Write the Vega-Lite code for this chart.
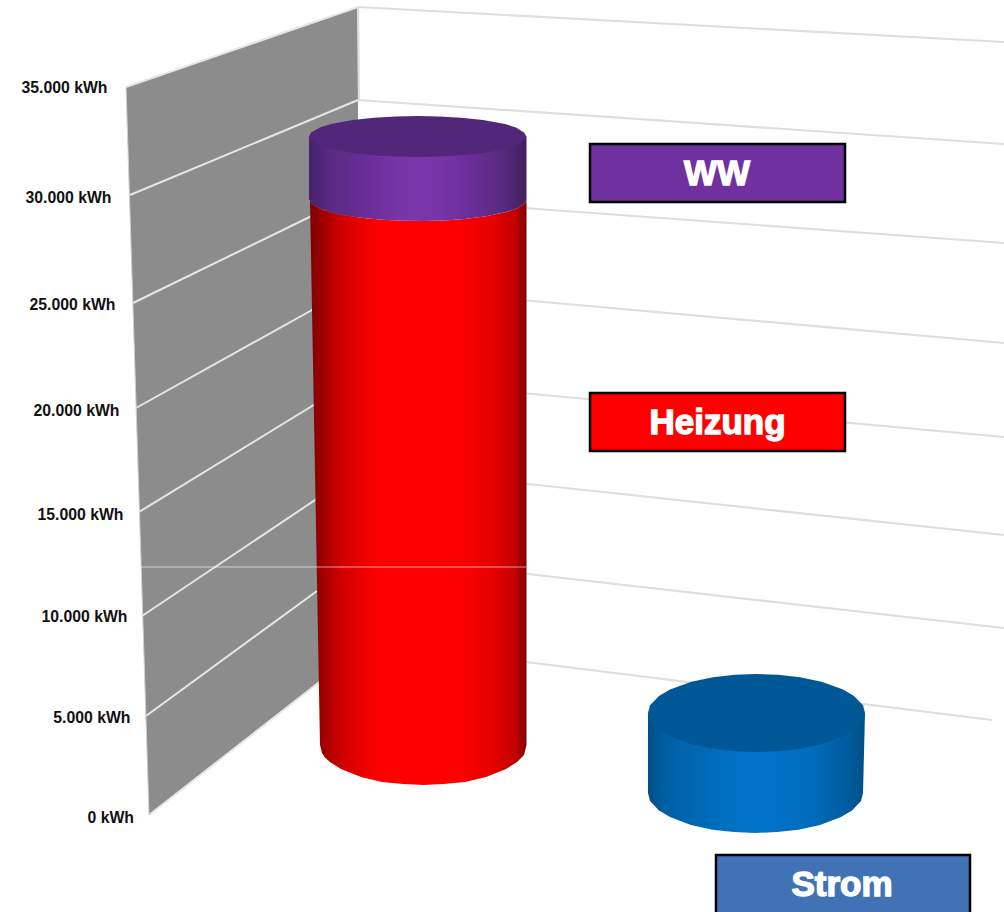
{
"$schema":"https://vega.github.io/schema/vega-lite/v6.json",
"width":1004,"height":912,"padding":0,
"autosize":{"type":"none"},
"background":"white",
"view":{"stroke":null},
"encoding":{
"x":{"field":"x","type":"quantitative","scale":{"domain":[0,1004],"nice":false,"zero":false},"axis":null},
"y":{"field":"y","type":"quantitative","scale":{"domain":[912,0],"nice":false,"zero":false},"axis":null}
},
"layer":[
{"data":{"values":[{"x":126,"y":87,"y2":87},{"x":149,"y":79,"y2":815},{"x":319,"y":20,"y2":682},{"x":358,"y":7,"y2":652}]},
"mark":{"type":"area","fill":"#8c8c8c","interpolate":"linear"},"encoding":{"y2":{"field":"y2"}}},
{"data":{"values":[
{"g":"35000","x":126,"y":87},{"g":"35000","x":358,"y":7},
{"g":"30000","x":130,"y":195},{"g":"30000","x":358,"y":100},
{"g":"25000","x":133,"y":303},{"g":"25000","x":330,"y":207},
{"g":"20000","x":136,"y":408},{"g":"20000","x":330,"y":300},
{"g":"15000","x":139,"y":512},{"g":"15000","x":330,"y":395},
{"g":"10000","x":142,"y":616},{"g":"10000","x":330,"y":490},
{"g":"5000","x":146,"y":716},{"g":"5000","x":317,"y":591},
{"g":"0","x":149,"y":815},{"g":"0","x":322,"y":680}]},
"mark":{"type":"line","color":"#e6e6e6","strokeWidth":2,"interpolate":"linear"},"encoding":{"detail":{"field":"g"}}},
{"data":{"values":[
{"g":"edgeL","x":126,"y":87},{"g":"edgeL","x":149,"y":815}]},
"mark":{"type":"line","color":"#d2d2d2","strokeWidth":1},"encoding":{"detail":{"field":"g"}}},
{"data":{"values":[
{"g":"35000","x":358,"y":7},{"g":"35000","x":1004,"y":42},
{"g":"30000","x":358,"y":100},{"g":"30000","x":1004,"y":144},
{"g":"25000","x":510,"y":207},{"g":"25000","x":1004,"y":243},
{"g":"20000","x":510,"y":299},{"g":"20000","x":1004,"y":343},
{"g":"15000","x":510,"y":392},{"g":"15000","x":1004,"y":437},
{"g":"10000","x":510,"y":482},{"g":"10000","x":1004,"y":535},
{"g":"5000","x":510,"y":572},{"g":"5000","x":1004,"y":628},
{"g":"0","x":510,"y":660},{"g":"0","x":992,"y":720},
{"g":"back","x":358,"y":7},{"g":"back","x":359,"y":100}]},
"mark":{"type":"line","color":"#dedede","strokeWidth":2.2,"interpolate":"linear"},"encoding":{"detail":{"field":"g"}}},

{"data":{"values":[
{"x":310,"y":200,"y2":200},{"x":312,"y":204,"y2":309},{"x":320,"y":208.8,"y2":745},{"x":322,"y":209.5,"y2":753},{"x":325,"y":210.5,"y2":757.5},{"x":330,"y":212,"y2":762},{"x":341,"y":214.7,"y2":769},{"x":361,"y":217.8,"y2":777},{"x":382,"y":219.8,"y2":782},{"x":403,"y":220.8,"y2":784},{"x":423.5,"y":221,"y2":785},{"x":444,"y":220.4,"y2":784},{"x":465,"y":219,"y2":782},{"x":486,"y":216.3,"y2":777},{"x":506,"y":212,"y2":769},{"x":517,"y":208.4,"y2":762},{"x":524,"y":204,"y2":755},{"x":526.5,"y":200,"y2":745}]},
"mark":{"type":"area","interpolate":"linear","fill":{"gradient":"linear","x1":0,"y1":0,"x2":1,"y2":0,"stops":[{"offset":0,"color":"#7d0000"},{"offset":0.06,"color":"#a00000"},{"offset":0.15,"color":"#d20000"},{"offset":0.32,"color":"#ff0000"},{"offset":0.68,"color":"#ff0000"},{"offset":0.85,"color":"#e40000"},{"offset":0.95,"color":"#c00000"},{"offset":1,"color":"#800000"}]}},
"encoding":{"y2":{"field":"y2"}}},

{"data":{"values":[
{"x":309,"y":136.5,"y2":200},{"x":310,"y":136.5,"y2":200},{"x":312,"y":136.5,"y2":204},{"x":320,"y":136.5,"y2":208.8},{"x":330,"y":136.5,"y2":212},{"x":341,"y":136.5,"y2":214.7},{"x":361,"y":136.5,"y2":217.8},{"x":382,"y":136.5,"y2":219.8},{"x":403,"y":136.5,"y2":220.8},{"x":423.5,"y":136.5,"y2":221},{"x":444,"y":136.5,"y2":220.4},{"x":465,"y":136.5,"y2":219},{"x":486,"y":136.5,"y2":216.3},{"x":506,"y":136.5,"y2":212},{"x":517,"y":136.5,"y2":208.4},{"x":524,"y":136.5,"y2":204},{"x":526.5,"y":136.5,"y2":200}]},
"mark":{"type":"area","interpolate":"linear","fill":{"gradient":"linear","x1":0,"y1":0,"x2":1,"y2":0,"stops":[{"offset":0,"color":"#46226a"},{"offset":0.1,"color":"#5a2a84"},{"offset":0.3,"color":"#6e2f9c"},{"offset":0.5,"color":"#7b37aa"},{"offset":0.72,"color":"#6e2f9c"},{"offset":0.88,"color":"#5a2a84"},{"offset":1,"color":"#42205f"}]}},
"encoding":{"y2":{"field":"y2"}}},

{"data":{"values":[
{"x":309,"y":136.5,"y2":136.5},{"x":311,"y":132.5,"y2":140.5},{"x":320,"y":127.5,"y2":145.5},{"x":331,"y":124,"y2":149},{"x":353,"y":120,"y2":153},{"x":374,"y":117.7,"y2":155.3},{"x":396,"y":116.5,"y2":156.5},{"x":417.7,"y":116,"y2":157},{"x":439,"y":116.5,"y2":156.5},{"x":461,"y":117.7,"y2":155.3},{"x":483,"y":120,"y2":153},{"x":505,"y":124,"y2":149},{"x":516,"y":127.5,"y2":145.5},{"x":524,"y":132.5,"y2":140.5},{"x":526.5,"y":136.5,"y2":136.5}]},
"mark":{"type":"area","interpolate":"linear","fill":"#522678"},"encoding":{"y2":{"field":"y2"}}},

{"data":{"values":[
{"x":648,"y":713,"y2":793},{"x":650,"y":713,"y2":801},{"x":659,"y":713,"y2":810.4},{"x":670,"y":713,"y2":817},{"x":691,"y":713,"y2":825},{"x":712.5,"y":713,"y2":829.7},{"x":734,"y":713,"y2":832},{"x":755.5,"y":713,"y2":833},{"x":777,"y":713,"y2":832},{"x":798.5,"y":713,"y2":829.7},{"x":820,"y":713,"y2":825},{"x":841,"y":713,"y2":817},{"x":852,"y":713,"y2":810.4},{"x":861,"y":713,"y2":801},{"x":863,"y":713,"y2":793},{"x":865,"y":713,"y2":713}]},
"mark":{"type":"area","interpolate":"linear","fill":{"gradient":"linear","x1":0,"y1":0,"x2":1,"y2":0,"stops":[{"offset":0,"color":"#004f88"},{"offset":0.08,"color":"#005fa4"},{"offset":0.3,"color":"#006cbc"},{"offset":0.5,"color":"#0074cb"},{"offset":0.75,"color":"#006cbc"},{"offset":0.92,"color":"#005c9f"},{"offset":1,"color":"#004f88"}]}},
"encoding":{"y2":{"field":"y2"}}},

{"data":{"values":[
{"x":648,"y":713,"y2":713},{"x":650,"y":705.2,"y2":720.8},{"x":659,"y":696,"y2":730},{"x":670,"y":689.6,"y2":736.4},{"x":691.4,"y":681.8,"y2":744.2},{"x":713,"y":677.2,"y2":748.8},{"x":735,"y":674.8,"y2":751.2},{"x":756.5,"y":674,"y2":752},{"x":778,"y":674.8,"y2":751.2},{"x":800,"y":677.2,"y2":748.8},{"x":821.6,"y":681.8,"y2":744.2},{"x":843,"y":689.6,"y2":736.4},{"x":854,"y":696,"y2":730},{"x":863,"y":705.2,"y2":720.8},{"x":865,"y":713,"y2":713}]},
"mark":{"type":"area","interpolate":"linear","fill":"#005796"},"encoding":{"y2":{"field":"y2"}}},

{"data":{"values":[{"g":"h","x":141,"y":567},{"g":"h","x":526,"y":567}]},
"mark":{"type":"line","color":"#ffffff","opacity":0.6,"strokeWidth":1},"encoding":{"detail":{"field":"g"}}},

{"data":{"values":[
{"label":"WW","x":590,"y":144,"x2":845,"y2":202,"fill":"WW"},
{"label":"Heizung","x":590,"y":393,"x2":845,"y2":451,"fill":"Heizung"},
{"label":"Strom","x":716,"y":855,"x2":970,"y2":925,"fill":"Strom"}]},
"mark":{"type":"rect","stroke":"black","strokeWidth":2.5,"clip":true},
"encoding":{"x2":{"field":"x2"},"y2":{"field":"y2"},"fill":{"field":"fill","type":"nominal","legend":null,"scale":{"domain":["WW","Heizung","Strom"],"range":["#7030a0","#ff0000","#4272b6"]}}}},

{"data":{"values":[
{"label":"WW","x":717,"y":174},
{"label":"Heizung","x":717.5,"y":423},
{"label":"Strom","x":842,"y":885}]},
"mark":{"type":"text","font":"Liberation Sans","fontWeight":"bold","fontSize":35,"color":"white","stroke":"white","strokeWidth":1.4,"align":"center","baseline":"middle"},
"encoding":{"text":{"field":"label"}}},

{"data":{"values":[
{"label":"35.000 kWh","x":107.5,"y":88},
{"label":"30.000 kWh","x":111.5,"y":198},
{"label":"25.000 kWh","x":115.5,"y":305},
{"label":"20.000 kWh","x":119.5,"y":411},
{"label":"15.000 kWh","x":123.5,"y":515},
{"label":"10.000 kWh","x":127.5,"y":617},
{"label":"5.000 kWh","x":130.5,"y":718},
{"label":"0 kWh","x":134,"y":818}]},
"mark":{"type":"text","font":"Liberation Sans","fontWeight":"bold","fontSize":15.8,"color":"#111111","align":"right","baseline":"middle"},
"encoding":{"text":{"field":"label"}}}
]
}
